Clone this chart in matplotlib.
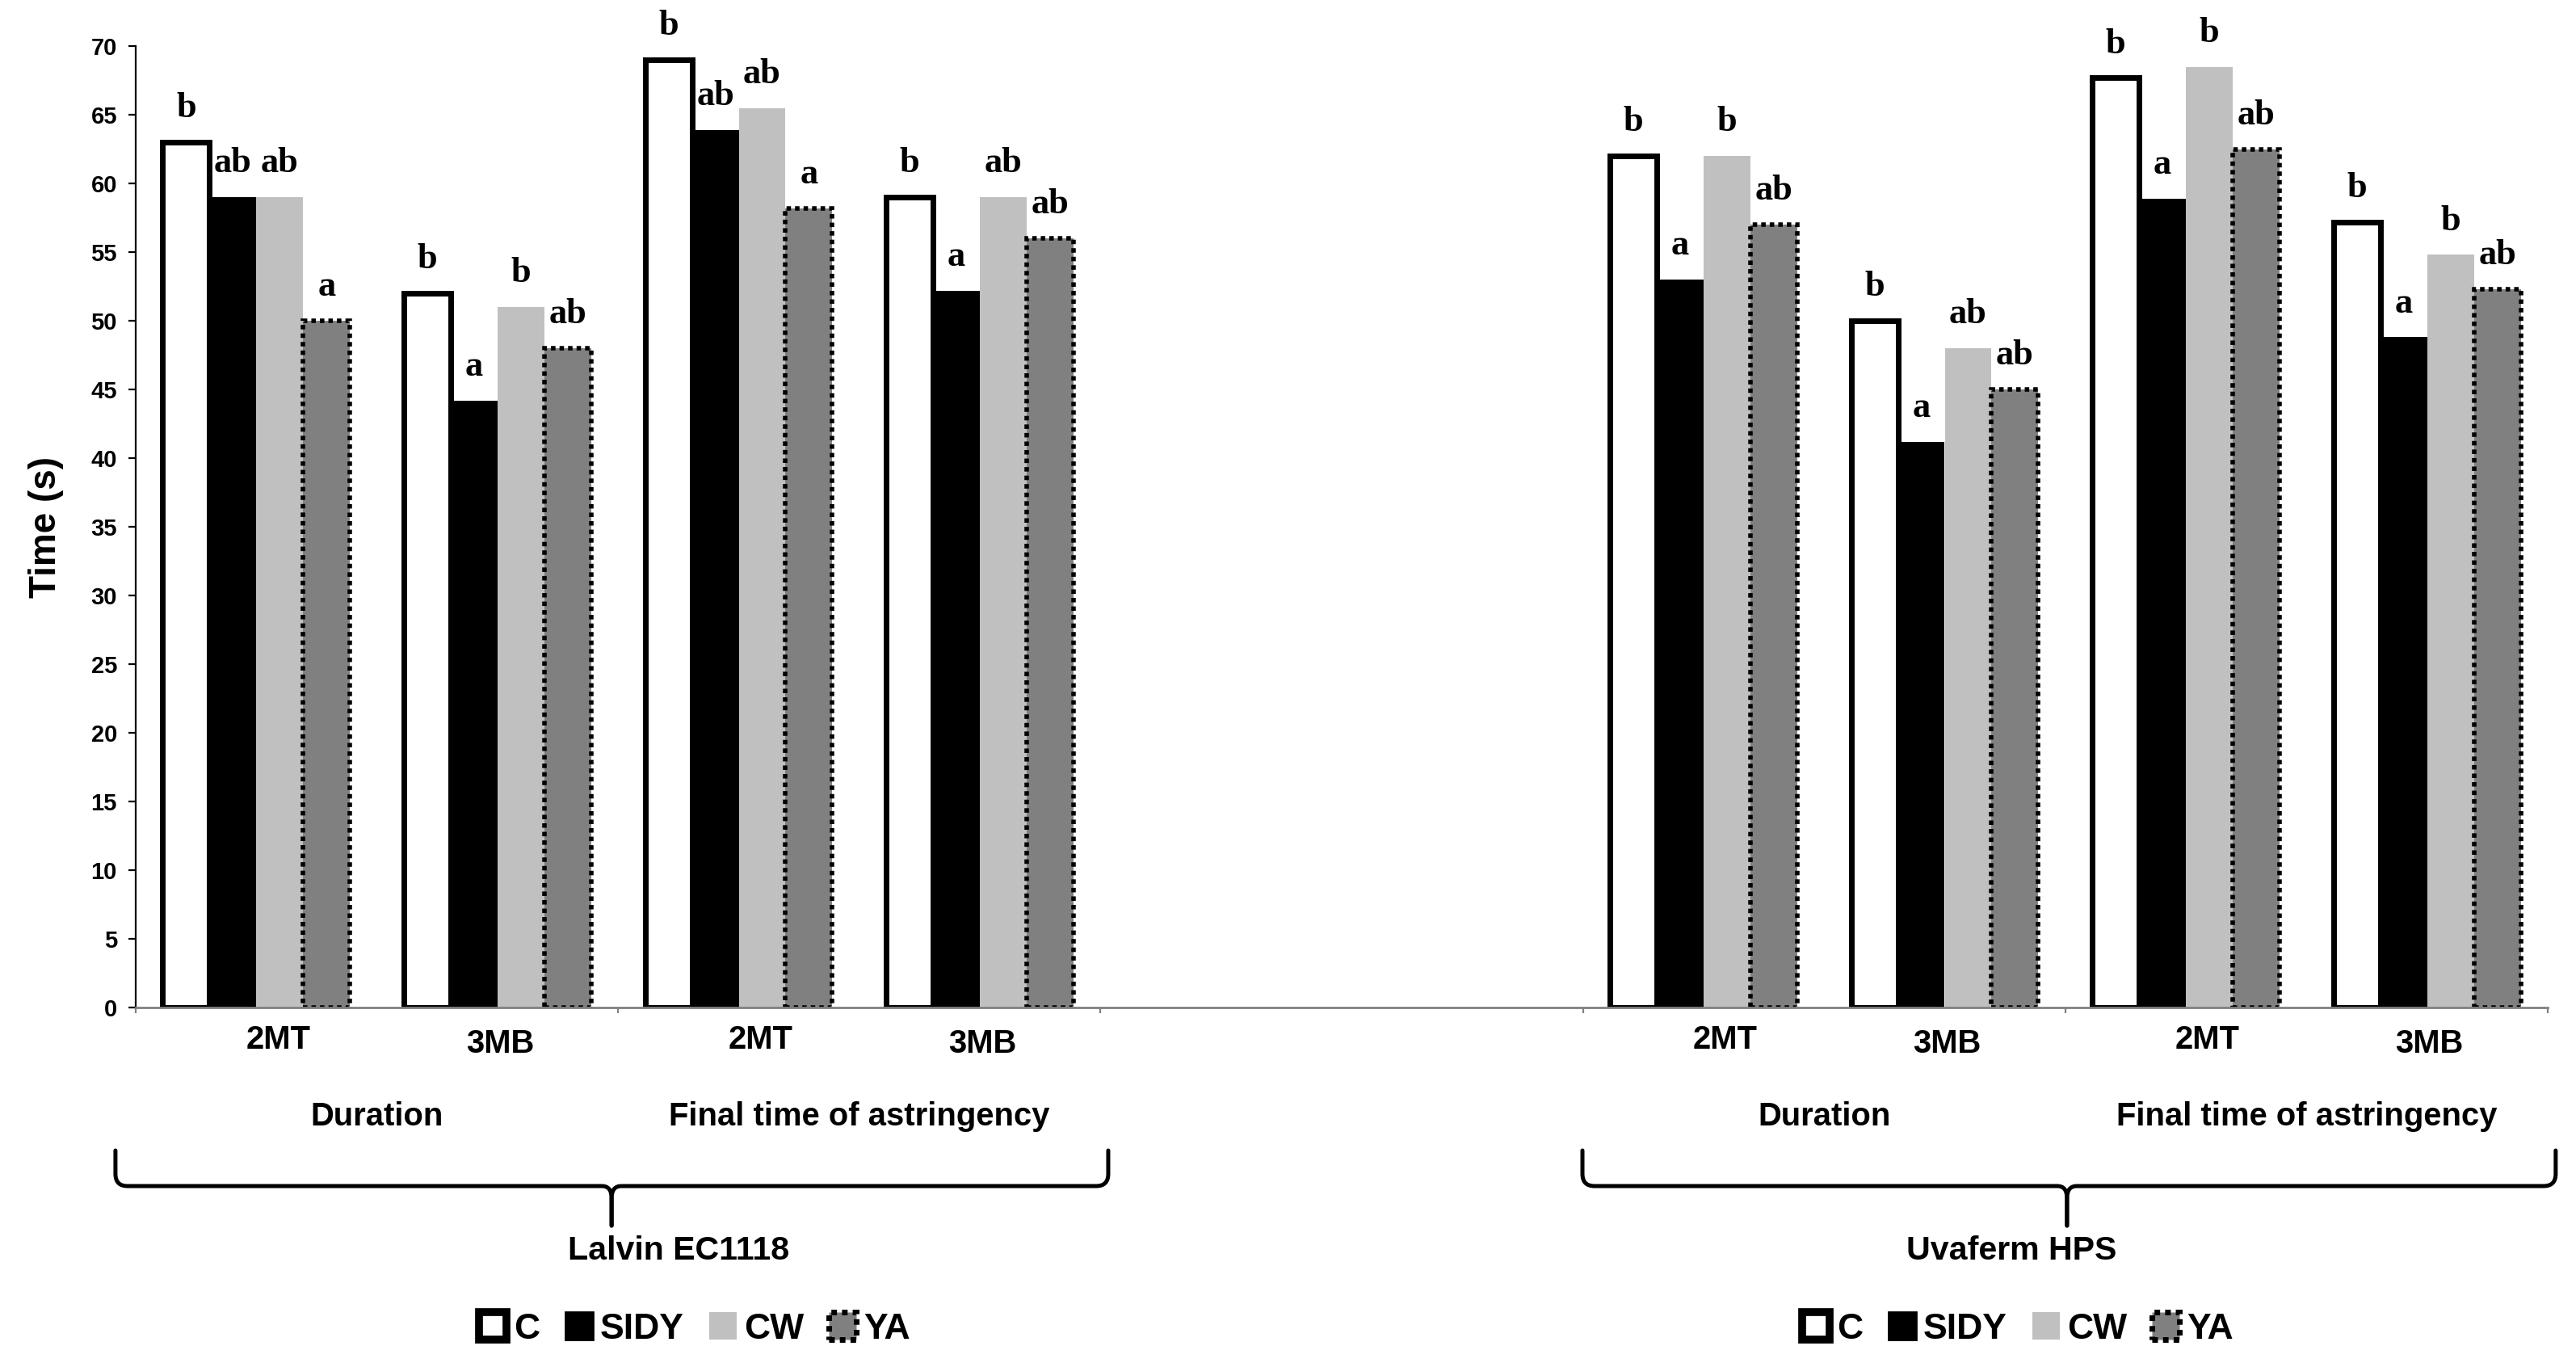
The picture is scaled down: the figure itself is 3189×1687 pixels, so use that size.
import numpy as np
import matplotlib
matplotlib.use('Agg')
import matplotlib.pyplot as plt
import matplotlib.transforms as mtransforms
from matplotlib.patches import Patch, PathPatch
from matplotlib.path import Path

plt.rcParams['font.family'] = ['Liberation Sans', 'DejaVu Sans']

# eje x: 10 huecos de categoria, el 4 y el 5 quedan vacios
sub_labels = ['2MT', '3MB', '2MT', '3MB', '', '', '2MT', '3MB', '2MT', '3MB']
param_labels = ['Duration', 'Final time of astringency', '',
                'Duration', 'Final time of astringency']
strains = ['Lalvin EC1118', 'Uvaferm HPS']
treatments = ['C', 'SIDY', 'CW', 'YA']

# valores (s) para las 8 categorias con datos
c_vals = [63, 52, 69, 59, 62, 50, 67.7, 57.2]
sidy_vals = [59, 44.2, 63.9, 52.2, 53, 41.2, 58.9, 48.8]
cw_vals = [59, 51, 65.5, 59, 62, 48, 68.5, 54.8]
ya_vals = [50, 48, 58.2, 56, 57, 45, 62.5, 52.3]

# letras de significancia
c_let = ['b', 'b', 'b', 'b', 'b', 'b', 'b', 'b']
sidy_let = ['ab', 'a', 'ab', 'a', 'a', 'a', 'a', 'a']
cw_let = ['ab', 'b', 'ab', 'ab', 'b', 'ab', 'b', 'b']
ya_let = ['a', 'ab', 'a', 'ab', 'ab', 'ab', 'ab', 'ab']

W, H, DPI = 3189, 1687, 200
fig = plt.figure(figsize=(W / DPI, H / DPI), dpi=DPI)
ax = fig.add_axes([168 / W, 1 - 1247 / H, (3154 - 168) / W, (1247 - 57) / H])

pos = np.array([i for i, s in enumerate(sub_labels) if s])
w = 0.194
series = [c_vals, sidy_vals, cw_vals, ya_vals]
letters = [c_let, sidy_let, cw_let, ya_let]
styles = [
    dict(facecolor='white', edgecolor='black', linewidth=2.5),
    dict(facecolor='black', edgecolor='none'),
    dict(facecolor='#c0c0c0', edgecolor='none'),
    dict(facecolor='#808080', edgecolor='black', linewidth=2.0,
         linestyle=(0, (1, 0.9))),
]
for k, (vals, st) in enumerate(zip(series, styles)):
    xk = pos + (k - 1.5) * w
    ax.bar(xk, vals, width=w, zorder=1 + k * 0.01, **st)
    for x, v, t in zip(xk, vals, letters[k]):
        ax.text(x, v + 1.8, t, ha='center', va='baseline',
                family=['Liberation Serif', 'DejaVu Serif'],
                weight='bold', size=16)

ax.set_xlim(-0.5, 9.5)
ax.set_ylim(0, 70)
ax.set_yticks(np.arange(0, 71, 5))
for lab in ax.get_yticklabels():
    lab.set_fontweight('bold')
ax.tick_params(axis='y', direction='out', length=3.3, width=0.8, pad=5,
               labelsize=10.5, color='black')
ax.set_xticks([-0.5, 1.5, 3.5, 5.5, 7.5, 9.5])
ax.set_xticklabels([])
ax.tick_params(axis='x', direction='out', length=2.5, width=0.8,
               color='#808080')
ax.spines[['top', 'right']].set_visible(False)
ax.spines['left'].set_linewidth(0.8)
ax.spines['bottom'].set_color('#808080')
ax.spines['bottom'].set_linewidth(1.0)

fig.text(57 / W, 0.5 * ((1 - 1247 / H) + (1 - 57 / H)), 'Time (s)',
         rotation=90, ha='center', va='center', size=16.5, weight='bold')

# etiquetas del eje x en dos niveles
trans = mtransforms.blended_transform_factory(ax.transData, fig.transFigure)
for i, s in enumerate(sub_labels):
    if not s:
        continue
    dx = 0.09 if s == '2MT' else 0.01
    yy = 1287 if s == '2MT' else 1292
    ax.text(i + dx, 1 - yy / H, s, transform=trans, ha='center', va='center',
            size=14.4, weight='bold')
for j, s in enumerate(param_labels):
    if s:
        ax.text(2 * j + 0.5, 1 - 1382 / H, s, transform=trans, ha='center',
                va='center', size=14.4, weight='bold')


def draw_brace(x0, x1, xt, ytop, yh, ytip):
    rx, ry = 0.05, 15 / H
    cx, cy = 0.04, 15 / H
    for xe, sgn in ((x0, 1), (x1, -1)):
        verts = [(xe, ytop), (xe, yh + ry), (xe, yh), (xe + sgn * rx, yh),
                 (xt - sgn * cx, yh), (xt, yh), (xt, yh - cy), (xt, ytip)]
        codes = [Path.MOVETO, Path.LINETO, Path.CURVE3, Path.CURVE3,
                 Path.LINETO, Path.CURVE3, Path.CURVE3, Path.LINETO]
        fig.add_artist(PathPatch(Path(verts, codes), transform=trans,
                                 facecolor='none', edgecolor='black',
                                 linewidth=1.8, capstyle='round'))


draw_brace(-0.584, 3.532, 1.473, 1 - 1424 / H, 1 - 1468 / H, 1 - 1517 / H)
draw_brace(5.498, 9.533, 7.507, 1 - 1424 / H, 1 - 1468 / H, 1 - 1517 / H)

for s, xc in zip(strains, [1.75, 7.276]):
    ax.text(xc, 1 - 1548 / H, s, transform=trans, ha='center', va='center',
            size=14.8, weight='bold')

# leyendas (una por cepa)
def handles():
    return [Patch(facecolor='white', edgecolor='black', linewidth=3.5),
            Patch(facecolor='black', edgecolor='black'),
            Patch(facecolor='#c0c0c0', edgecolor='none'),
            Patch(facecolor='#808080', edgecolor='black', linewidth=2.5,
                  linestyle=(0, (1, 0.9)))]


for xc in [860, 2498]:
    fig.legend(handles(), treatments, ncol=4, loc='center',
               bbox_to_anchor=(xc / W, 1 - 1645 / H), frameon=False,
               prop=dict(weight='bold', size=16), handlelength=0.77,
               handleheight=0.77, handletextpad=0.2, columnspacing=0.7,
               borderpad=0)

fig.savefig('out.png', dpi=DPI)
